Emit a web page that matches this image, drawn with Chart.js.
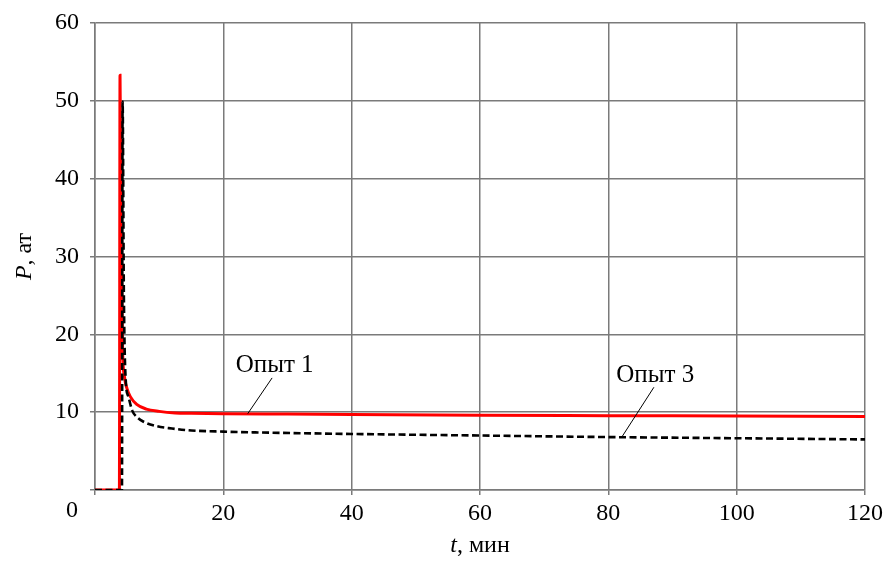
<!DOCTYPE html>
<html>
<head>
<meta charset="utf-8">
<script src="https://cdn.jsdelivr.net/npm/chart.js@4"></script>
<style>
  html, body { margin: 0; padding: 0; background: #fff; }
  #wrap { width: 890px; height: 561px; }
</style>
</head>
<body>
<div id="wrap"><canvas id="grafico"></canvas></div>
<script>
// datos
const tiempo1 = [0, 3.8, 3.9, 4.1, 4.3, 4.6, 5, 5.5, 6.5, 8, 10, 12.5, 15, 20, 30, 40, 60, 80, 100, 120];
const presion1 = [0, 0, 53.3, 30, 18, 14.5, 13, 12, 11, 10.4, 10.1, 9.9, 9.85, 9.8, 9.75, 9.7, 9.6, 9.55, 9.5, 9.45];

const tiempo3 = [0, 4.2, 4.3, 4.5, 4.8, 5.2, 5.8, 6.5, 7.5, 9.6, 12, 15, 20, 25, 40, 60, 80, 100, 120];
const presion3 = [0, 0, 49.9, 25, 14, 12, 10.2, 9.4, 8.8, 8.2, 7.9, 7.65, 7.5, 7.4, 7.2, 7.0, 6.8, 6.65, 6.5];

const ticksX = [0, 20, 40, 60, 80, 100, 120];
const ticksY = [10, 20, 30, 40, 50, 60];

// etiquetas: texto, posicion del texto, inicio y fin de la linea guia
const etiquetas = ['Опыт 1', 'Опыт 3'];
const etiquetaPos = [[28, 15.2], [87.3, 13.9]];
const guiaInicio = [[27.6, 14.4], [87.1, 13.2]];
const guiaFin = [[23.8, 9.8], [82.1, 6.8]];

const FUENTE = '"Liberation Serif", "Times New Roman", serif';
const TAM = 24;

const puntos = (xs, ys) => xs.map((x, i) => ({ x: x, y: ys[i] }));

// texto con la primera letra en cursiva (P, t)
const textoMixto = (ctx, cursiva, resto, cx, cy) => {
    ctx.font = 'italic ' + TAM + 'px ' + FUENTE;
    const w1 = ctx.measureText(cursiva).width;
    ctx.font = TAM + 'px ' + FUENTE;
    const w2 = ctx.measureText(resto).width;
    const x0 = cx - (w1 + w2) / 2;
    ctx.textAlign = 'left';
    ctx.textBaseline = 'middle';
    ctx.font = 'italic ' + TAM + 'px ' + FUENTE;
    ctx.fillText(cursiva, x0, cy);
    ctx.font = TAM + 'px ' + FUENTE;
    ctx.fillText(resto, x0 + w1, cy);
};

const anotaciones = {
    id: 'anotaciones',
    afterDatasetsDraw(chart) {
        const { ctx, scales: { x, y } } = chart;
        ctx.save();
        ctx.strokeStyle = '#000';
        ctx.fillStyle = '#000';
        ctx.lineWidth = 1;
        etiquetas.forEach((txt, i) => {
            ctx.beginPath();
            ctx.moveTo(x.getPixelForValue(guiaInicio[i][0]), y.getPixelForValue(guiaInicio[i][1]));
            ctx.lineTo(x.getPixelForValue(guiaFin[i][0]), y.getPixelForValue(guiaFin[i][1]));
            ctx.stroke();
            ctx.font = '25px ' + FUENTE;
            ctx.textAlign = 'center';
            ctx.textBaseline = 'alphabetic';
            ctx.fillText(txt, x.getPixelForValue(etiquetaPos[i][0]), y.getPixelForValue(etiquetaPos[i][1]));
        });
        // el "0" del eje x va corrido a la izquierda
        ctx.font = TAM + 'px ' + FUENTE;
        ctx.textAlign = 'center';
        ctx.textBaseline = 'top';
        ctx.fillText('0', x.left - 23, y.bottom + 9);

        // titulos de los ejes
        textoMixto(ctx, 't', ', мин', (x.left + x.right) / 2, y.bottom + 56);
        ctx.translate(25, (y.top + y.bottom) / 2);
        ctx.rotate(-Math.PI / 2);
        textoMixto(ctx, 'P', ', ат', 0, 0);
        ctx.restore();
    }
};

const grafico = document.getElementById('grafico').getContext('2d');

window.graficaPresion = new Chart(grafico, {
    type: 'line',
    data: {
        datasets: [{
            label: 'Опыт 1',
            data: puntos(tiempo1, presion1),
            borderColor: '#ff0000',
            borderWidth: 3,
            pointRadius: 0,
            cubicInterpolationMode: 'monotone',
            order: 1
        }, {
            label: 'Опыт 3',
            data: puntos(tiempo3, presion3),
            borderColor: '#000000',
            borderWidth: 2.6,
            borderDash: [7, 3.5],
            pointRadius: 0,
            cubicInterpolationMode: 'monotone',
            order: 0
        }]
    },
    options: {
        responsive: true,
        maintainAspectRatio: false,
        animation: false,
        layout: { padding: { top: 23, right: 25, left: 0, bottom: 0 } },
        plugins: {
            legend: { display: false },
            tooltip: { enabled: false }
        },
        scales: {
            x: {
                type: 'linear',
                min: 0,
                max: 120,
                afterBuildTicks: (s) => { s.ticks = ticksX.map(v => ({ value: v })); },
                afterFit: (s) => { s.height = 71; s.paddingLeft = 0; s.paddingRight = 0; },
                ticks: {
                    color: '#000',
                    font: { family: FUENTE, size: TAM },
                    padding: 4,
                    maxRotation: 0,
                    callback: (v) => v === 0 ? '' : v
                },
                grid: { color: '#7a7a7a', lineWidth: 1.5, tickLength: 5 },
                border: { color: '#7a7a7a', width: 1.5 }
            },
            y: {
                type: 'linear',
                min: 0,
                max: 60,
                afterBuildTicks: (s) => { s.ticks = [0].concat(ticksY).map(v => ({ value: v })); },
                afterFit: (s) => { s.width = 95; s.paddingTop = 0; s.paddingBottom = 0; },
                ticks: {
                    color: '#000',
                    font: { family: FUENTE, size: TAM },
                    padding: 11,
                    callback: (v) => v === 0 ? '' : v
                },
                grid: { color: '#7a7a7a', lineWidth: 1.5, tickLength: 5 },
                border: { color: '#7a7a7a', width: 1.5 }
            }
        }
    },
    plugins: [anotaciones]
});
</script>
</body>
</html>
